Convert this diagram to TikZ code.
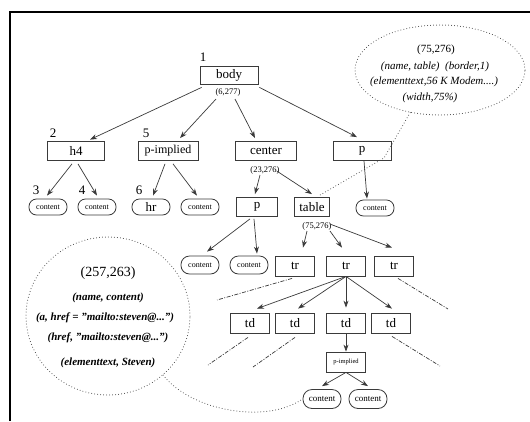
\documentclass[tikz,border=0pt]{standalone}
\usepackage{fontspec}
\setmainfont{Liberation Serif}
\usetikzlibrary{arrows.meta,calc,shapes.geometric}
\definecolor{ln}{HTML}{3A3A3A}
\begin{document}
\begin{tikzpicture}[x=1pt,y=-1pt,
  box/.style={draw=ln, line width=0.8pt, minimum height=19pt, inner sep=0pt, font=\fontsize{13}{13}\selectfont},
  cont/.style={draw=ln, line width=0.8pt, rounded corners=7.5pt, minimum width=38pt, minimum height=16pt, inner sep=0pt, font=\fontsize{8}{8}\selectfont},
  lab/.style={font=\fontsize{8.5}{9}\selectfont, inner sep=0pt},
  num/.style={font=\fontsize{13}{13}\selectfont, inner sep=0pt},
  arr/.style={draw=ln, line width=0.7pt, -{Stealth[length=7pt,width=5pt]}},
  dd/.style={draw=ln, line width=0.7pt, dash pattern=on 4pt off 1.5pt on 1pt off 1.5pt},
  dots/.style={draw=ln, line width=1pt, line cap=round, dash pattern=on 0pt off 3pt},
  itl/.style={font=\fontsize{11}{11}\selectfont\itshape, inner sep=0pt},
  itb/.style={font=\fontsize{11}{11}\selectfont\bfseries\itshape, inner sep=0pt}
]
\useasboundingbox (0,0) rectangle (530,421);
\draw[line width=1.2pt] (10,421) -- (10,12) -- (530,12);

% level 1
\node[box,minimum width=58pt,minimum height=18pt] (body) at (229,75) {body};
\node[num] (n1) at (203,57) {1};
\node[lab] (l6) at (228,92) {(6,277)};

% level 2
\node[box,minimum width=57pt] (h4) at (76,151) {h4};
\node[num] (n2) at (53,133) {2};
\node[box,minimum width=60pt,font=\fontsize{12}{12}\selectfont] (pimp) at (168,151) {p-implied};
\node[num] (n5) at (146,133) {5};
\node[box,minimum width=61pt] (center) at (266,151) {center};
\node[lab] (l23) at (265,170) {(23,276)};
\node[box,minimum width=58pt] (p1) at (362,151) {p};

% level 3
\node[num] (n3) at (36,190) {3};
\node[num] (n4) at (82,190) {4};
\node[num] (n6) at (139,190) {6};
\node[cont] (c1) at (48,207) {content};
\node[cont] (c2) at (97,207) {content};
\node[cont,font=\fontsize{13}{13}\selectfont] (hr) at (151,207) {hr};
\node[cont] (c4) at (200,207) {content};
\node[box,minimum width=41pt] (p2) at (257,207) {p};
\node[box,minimum width=35pt] (table) at (312,207) {table};
\node[cont] (c5) at (375,208) {content};
\node[lab] (l75) at (317,226) {(75,276)};

% level 4
\node[cont,minimum height=18pt,rounded corners=8.5pt] (c6) at (200,265) {content};
\node[cont,minimum height=18pt,rounded corners=8.5pt] (c7) at (249,265) {content};
\node[box,minimum width=39pt,minimum height=20pt] (tr1) at (295,266) {tr};
\node[box,minimum width=39pt,minimum height=20pt] (tr2) at (346,266) {tr};
\node[box,minimum width=39pt,minimum height=20pt] (tr3) at (394,266) {tr};

% level 5
\node[box,minimum width=39pt,minimum height=20pt] (td1) at (250,323) {td};
\node[box,minimum width=39pt,minimum height=20pt] (td2) at (295,323) {td};
\node[box,minimum width=39pt,minimum height=20pt] (td3) at (346,323) {td};
\node[box,minimum width=39pt,minimum height=20pt] (td4) at (391,323) {td};

% level 6, 7
\node[box,minimum width=39pt,minimum height=20pt,font=\fontsize{6.5}{6.5}\selectfont] (pimp2) at (346,362) {p-implied};
\node[cont,minimum height=19pt,rounded corners=9pt,font=\fontsize{9}{9}\selectfont] (c8) at (322,399) {content};
\node[cont,minimum height=19pt,rounded corners=9pt,font=\fontsize{9}{9}\selectfont] (c9) at (368,399) {content};

% annotations
\node[ellipse,dots,minimum width=170pt,minimum height=90pt,inner sep=0pt] (ell) at (440,70) {};
\node[lab,font=\fontsize{11}{11}\selectfont] (e1t) at (436,50) {(75,276)};
\node[itl] (e2t) at (435,67) {(name, table)\ \ (border,1)};
\node[itl] (e3t) at (434,82) {(elementtext,56 K Modem....)};
\node[itl] (e4t) at (430,98) {(width,75\%)};

\node[ellipse,dots,minimum width=164pt,minimum height=158pt,inner sep=0pt] (circ) at (108,316) {};
\node[num,font=\fontsize{14}{14}\selectfont] (ct1) at (108,273) {(257,263)};
\node[itb] (ct2) at (108,298) {(name, content)};
\node[itb] (ct3) at (105,318) {(a, href = "mailto:steven@...")};
\node[itb] (ct4) at (108,338) {(href, "mailto:steven@...")};
\node[itb] (ct5) at (108,363) {(elementtext, Steven)};

% arrows
\draw[arr] ($(body.south west)+(2,3)$) -- ($(h4.north)+(14,-1.5)$);
\draw[arr] ($(l6.south)+(-12,3)$) -- ($(pimp.north)+(12,-3)$);
\draw[arr] ($(l6.south)+(7,3)$) -- ($(center.north)+(-11,-3)$);
\draw[arr] ($(body.south east)+(1,3)$) -- ($(p1.north)+(-5,-4)$);
\draw[arr] ($(h4.south)+(-4,3)$) -- ($(c1.north)+(-1,-3)$);
\draw[arr] ($(h4.south)+(2,3)$) -- ($(c2.north)+(0,-3)$);
\draw[arr] ($(pimp.south)+(-3,3)$) -- ($(hr.north)+(2,-3)$);
\draw[arr] ($(pimp.south)+(5,3)$) -- ($(c4.north)+(-3,-3)$);
\draw[arr] ($(l23.south)+(-5,1)$) -- ($(p2.north)+(-2,-3)$);
\draw[arr] ($(l23.east)+(-3,1)$) -- ($(table.north)+(0,-3)$);
\draw[arr] ($(p1.south)+(2,0)$) -- ($(c5.north)+(-8,-1)$);
\draw[arr] ($(p2.south)+(-7,2)$) -- ($(c6.north)+(7,-4)$);
\draw[arr] ($(p2.south)+(-3,2)$) -- ($(c7.north)+(8,-2)$);
\draw[arr] ($(l75.south)+(-10,1)$) -- ($(tr1.north)+(8,-8)$);
\draw[arr] ($(l75.south)+(13,1)$) -- ($(tr2.north)+(-4,-8)$);
\draw[arr] ($(l75.north east)+(-2,2)$) -- ($(tr3.north)+(-2,-8)$);
\draw[arr] (tr2.south) -- ($(td1.north)+(7,-4)$);
\draw[arr] (tr2.south) -- ($(td2.north)+(3,-4)$);
\draw[arr] (tr2.south) -- ($(td3.north)+(0,-5)$);
\draw[arr] (tr2.south) -- ($(td4.north)+(1,-4)$);
\draw[arr] (td3.south) -- (pimp2.north);
\draw[arr] (pimp2.south) -- ($(c8.north)+(0,-3)$);
\draw[arr] (pimp2.south) -- ($(c9.north)+(0,-3)$);

% dash-dot stubs
\coordinate (d1) at (217,300);
\coordinate (d2) at (448,309);
\coordinate (d3) at (208,365);
\coordinate (d4) at (253,367);
\coordinate (d5) at (440,366);
\draw[dd] ($(tr1.south)+(-3,2)$) -- (d1);
\draw[dd] ($(tr3.south)+(4,2)$) -- (d2);
\draw[dd] ($(td1.south)+(-2,4)$) -- (d3);
\draw[dd] ($(td2.south)+(0,4)$) -- (d4);
\draw[dd] ($(td4.south)+(1,3)$) -- (d5);

% dotted callouts
\coordinate (bend) at (384,158);
\draw[dots] (ell.-125) -- (bend) -- ($(table.north east)+(-10,-2)$);
\draw[dots] (circ.-47) .. controls (190,410) and (265,425) .. (c8.west);
\end{tikzpicture}
\end{document}
